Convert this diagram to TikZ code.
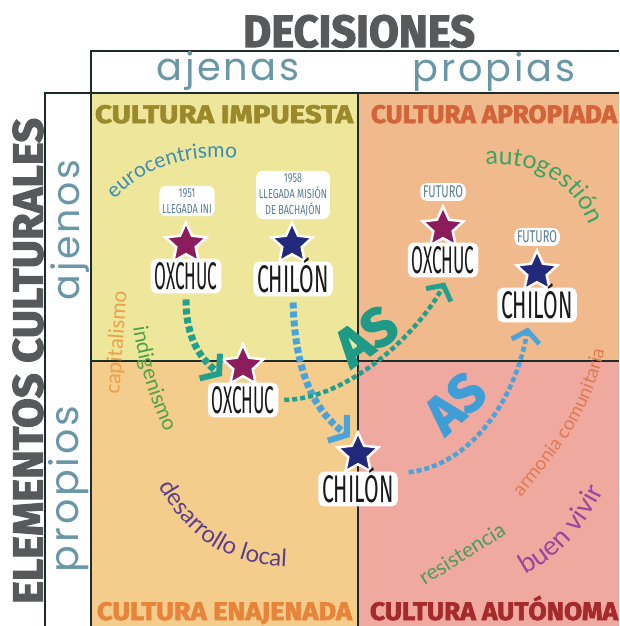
\documentclass[tikz,border=0pt]{standalone}
\usepackage{fontspec}
\setmainfont{Fira Sans}
\newfontfamily\heavy{Fira Sans}[FakeBold=2.5]
\newfontfamily\geo{Poppins}[LetterSpace=7]
\newfontfamily\hand{Lato}
\usetikzlibrary{shapes.geometric,arrows.meta,decorations.text}
\definecolor{tlC}{HTML}{EEE79B}
\definecolor{trC}{HTML}{F1BA8C}
\definecolor{blC}{HTML}{F4CD8D}
\definecolor{brC}{HTML}{EFA99F}
\definecolor{grayT}{HTML}{58595B}
\definecolor{lineC}{HTML}{1D2B2B}
\definecolor{axisC}{HTML}{6A97A7}
\definecolor{impC}{HTML}{9B8A2B}
\definecolor{aproC}{HTML}{D2643B}
\definecolor{enaC}{HTML}{E7843A}
\definecolor{autC}{HTML}{A52A2C}
\definecolor{purS}{HTML}{8C1D5C}
\definecolor{navS}{HTML}{22287A}
\definecolor{tealA}{HTML}{22A08C}
\definecolor{blueA}{HTML}{4AA3DA}
\definecolor{tealAS}{HTML}{1F9A86}
\definecolor{blueAS}{HTML}{3F9ED6}
\definecolor{noteC}{HTML}{587D8F}
\definecolor{cityC}{HTML}{1A1A1A}
\definecolor{euroC}{HTML}{3C8CB4}
\definecolor{autoC}{HTML}{3BA463}
\definecolor{capC}{HTML}{EAA04A}
\definecolor{indC}{HTML}{4EA24A}
\definecolor{desC}{HTML}{5B3F8C}
\definecolor{armC}{HTML}{E07A50}
\definecolor{buenC}{HTML}{9B45A0}
\definecolor{resC}{HTML}{4A9E58}
\newcommand\nar[1]{\scalebox{0.7}[1]{#1}}
\tikzset{
  frame/.style={draw=lineC, line width=2pt},
  glow/.style={fill=white, draw=white, line width=2.5pt, rounded corners=5pt, inner sep=2.5pt},
  starn/.style={star, star points=5, star point ratio=2.1, minimum size=43pt, inner sep=0pt, draw=white, line width=2.5pt, fill=#1},
  city/.style={glow, text=cityC},
  note/.style={glow, text=noteC, align=center, font=\fontsize{13}{16}\selectfont, inner sep=1.5pt},
  qt/.style={inner sep=0pt, anchor=base, font=\heavy\bfseries},
  axis/.style={inner sep=0pt, anchor=base, text=axisC, font=\geo},
  big/.style={inner sep=0pt, anchor=base, text=grayT, font=\heavy\bfseries},
  asl/.style={inner sep=0pt, font=\heavy\bfseries},
  hwn/.style={inner sep=0pt, anchor=base, font=\hand\fontsize{21}{21}\selectfont},
  hw/.style={decorate, decoration={text along path, text align=center, #1}},
  thickarr/.style={line width=7pt, dash pattern=on 6pt off 3pt, shorten <=6pt, -{Straight Barb[length=12pt, width=32pt, line width=6pt]}},
  thinarr/.style={line width=4.5pt, dash pattern=on 5pt off 3pt, shorten <=6pt, -{Straight Barb[length=11pt, width=28pt, line width=5pt]}}
}
\begin{document}
\begin{tikzpicture}[x=1pt, y=-1pt]
\useasboundingbox (0,0) rectangle (619,626);
% quadrants
\fill[tlC] (91,93) rectangle (358,361);
\fill[trC] (358,93) rectangle (619,361);
\fill[blC] (91,361) rectangle (358,626);
\fill[brC] (358,361) rectangle (619,626);
\fill[white] (91,51) rectangle (619,93);
\fill[white] (45,93) rectangle (91,626);
\draw[frame] (619,51) -- (91,51) -- (91,626);
\draw[frame] (45,626) -- (45,93) -- (619,93);
\draw[frame] (358,93) -- (358,626);
\draw[frame] (91,361) -- (619,361);
% headings
\node[big] (hDec) at (359,47) {\resizebox{232pt}{32pt}{DECISIONES}};
\node[big, rotate=90, anchor=center] (hElem) at (28,361) {\resizebox{486pt}{30pt}{ELEMENTOS CULTURALES}};
\node[axis] (hAjenas) at (228,81) {\resizebox{143pt}{!}{ajenas}};
\node[axis] (hPropias) at (494,81) {\resizebox{162pt}{!}{propias}};
\node[axis, rotate=90] (hAjenos) at (79,230) {\resizebox{140pt}{!}{ajenos}};
\node[axis, rotate=90] (hPropios) at (78,489) {\resizebox{166pt}{!}{propios}};
% quadrant titles
\node[qt, text=impC] (tImp) at (224,123) {\resizebox{258pt}{18pt}{CULTURA IMPUESTA}};
\node[qt, text=aproC] (tApro) at (494,123) {\resizebox{246pt}{18pt}{CULTURA APROPIADA}};
\node[qt, text=enaC] (tEna) at (224.5,620) {\resizebox{255pt}{18pt}{CULTURA ENAJENADA}};
\node[qt, text=autC] (tAut) at (494,620) {\resizebox{248pt}{18pt}{CULTURA AUT\smash{Ó}NOMA}};
% handwritten words
\path[hw={text={|\hand\fontsize{21}{21}\selectfont|eurocentrismo}, text color=euroC}] (106,210) .. controls (136,170) and (185,150) .. (250,160);
\path[hw={text={|\hand\fontsize{25}{25}\selectfont|autogestión}, text color=autoC}] (466,168) .. controls (530,154) and (580,180) .. (596,244);
\node[hwn, text=capC, rotate=86] (wCap) at (123,343) {capitalismo};
\path[hw={text={|\hand\fontsize{21}{21}\selectfont|indigenismo}, text color=indC}] (131,312) .. controls (137,360) and (150,405) .. (172,446);
\path[hw={text={|\hand\fontsize{24}{24}\selectfont|desarrollo local}, text color=desC}] (146,464) .. controls (180,528) and (215,572) .. (312,566);
\path[hw={text={|\hand\fontsize{19}{19}\selectfont|armonia comunitaria}, text color=armC}] (510,512) .. controls (553,455) and (594,420) .. (608,332);
\path[hw={text={|\hand\fontsize{27}{27}\selectfont|buen vivir}, text color=buenC}] (507,583) .. controls (555,564) and (592,525) .. (611,472);
\node[hwn, text=resC, rotate=32] (wRes) at (466,560) {resistencia};
% AS labels
\node[asl, text=tealAS, rotate=35] (asTeal) at (366,336) {\resizebox{62pt}{38pt}{AS}};
\node[asl, text=blueAS, rotate=42] (asBlue) at (455,403) {\resizebox{60pt}{38pt}{AS}};
% notes
\node[note] (dOx) at (187,201) {\nar{1951}\\\nar{LLEGADA INI}};
\node[note] (dCh) at (293,195) {\nar{1958}\\\nar{LLEGADA MISI\smash{Ó}N}\\\nar{DE BACHAJ\smash{Ó}N}};
\node[note, font=\fontsize{17}{17}\selectfont] (fOx) at (443,192) {\scalebox{0.65}[1]{FUTURO}};
\node[note, font=\fontsize{17}{17}\selectfont] (fCh) at (537,237) {\scalebox{0.65}[1]{FUTURO}};
% stars
\node[starn=purS] (sOxA) at (186,244) {};
\node[starn=navS] (sChA) at (292,244) {};
\node[starn=purS] (sOxF) at (443,228) {};
\node[starn=navS] (sChF) at (537,272) {};
\node[starn=purS] (sOxB) at (243,366) {};
\node[starn=navS] (sChB) at (358,454) {};
% city labels
\node[city] (lOxA) at (186,276) {\resizebox{63pt}{27pt}{OXCHUC}};
\node[city] (lChA) at (293,279) {\resizebox{72pt}{27pt}{CHIL\smash{Ó}N}};
\node[city] (lOxF) at (443,260) {\resizebox{63pt}{27pt}{OXCHUC}};
\node[city] (lChF) at (537,305) {\resizebox{72pt}{27pt}{CHIL\smash{Ó}N}};
\node[city] (lOxB) at (243,400) {\resizebox{63pt}{27pt}{OXCHUC}};
\node[city] (lChB) at (358,489) {\resizebox{72pt}{27pt}{CHIL\smash{Ó}N}};
% arrows
\draw[thickarr, tealA] (lOxA.south) .. controls +(0,45) and +(-22,-18) .. ([shift={(-21,10)}]sOxB.center);
\draw[thickarr, blueA] (lChA.south) .. controls +(2,85) and +(-30,-22) .. ([shift={(-8,-17)}]sChB.center);
\draw[thinarr, tealA] (lOxB.east) .. controls +(72,-1) and +(-25,48) .. ([shift={(2,5)}]lOxF.south);
\draw[thinarr, blueA] ([shift={(5,-16)}]lChB.east) .. controls +(68,-8) and +(-13,73) .. ([shift={(-9,5)}]lChF.south);
\end{tikzpicture}
\end{document}
